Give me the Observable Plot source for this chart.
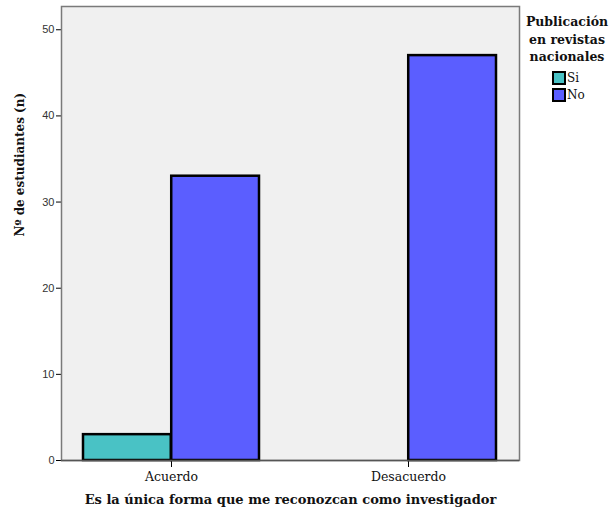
<!DOCTYPE html>
<html>
<head>
<meta charset="utf-8">
<script src="https://cdn.jsdelivr.net/npm/d3@7"></script>
<script src="https://cdn.jsdelivr.net/npm/@observablehq/plot@0.6"></script>
<style>
  html, body { margin: 0; padding: 0; background: #fff; }
  #wrap { position: relative; width: 611px; height: 516px; }
  #wrap svg { position: absolute; left: 0; top: 0; }
  #wrap svg [aria-label^='x-axis'] text { font-family: 'DejaVu Serif', serif !important; font-size: 12.5px; fill: #111; }
  #wrap svg [aria-label^='y-axis'] text { font-family: 'Liberation Sans', Arial, sans-serif !important; font-size: 11px; fill: #333; }
  #legend { position: absolute; left: 521px; top: 13px; width: 92px; font-family: 'DejaVu Serif', serif; }
  #legend .title { font-weight: bold; font-size: 12.5px; line-height: 17.5px; text-align: center; color: #111; }
  #legend .items { margin-left: 31px; margin-top: 4px; }
  #legend .item { display: flex; align-items: center; height: 17px; font-size: 12px; color: #111; }
  #legend .sw { width: 10px; height: 10px; border: 2px solid #000; margin-right: 1px; }
</style>
</head>
<body>
<div id="wrap"></div>
<script>
const categories = ["Acuerdo", "Desacuerdo"];
const series = ["Si", "No"];
const siValues = [3, 0];
const noValues = [33, 47];
const yTicks = [0, 10, 20, 30, 40, 50];
const colors = ["#49C2C5", "#5B5EFF"];
const xTitle = "Es la única forma que me reconozcan como investigador";
const yTitle = "Nº de estudiantes (n)";
const legendTitle = ["Publicación", "en revistas", "nacionales"];

const rows = [];
categories.forEach((c, i) => {
  rows.push({cat: c, serie: "Si", n: siValues[i]});
  rows.push({cat: c, serie: "No", n: noValues[i]});
});

const width = 611, height = 516;
const marginLeft = 61, marginRight = 92, marginTop = 6, marginBottom = 56;
const paddingInner = 0.257, paddingOuter = 0.0928;
const step = (width - marginLeft - marginRight) / (categories.length - paddingInner + 2 * paddingOuter);
const half = step * (1 - paddingInner) / 2;
const serif = "DejaVu Serif, serif";

const chart = Plot.plot({
  width, height, marginLeft, marginRight, marginTop, marginBottom,
  style: {background: "transparent", overflow: "visible"},
  x: {domain: categories, paddingInner, paddingOuter, tickSize: 7, tickPadding: 5, label: null},
  y: {domain: [0, 52.7], ticks: yTicks, tickSize: 5, tickPadding: 2, label: null},
  color: {domain: series, range: colors},
  marks: [
    Plot.frame({fill: "#f0f0f0", stroke: "#7a7a7a", strokeWidth: 1.5}),
    Plot.barY(rows.filter(d => d.serie === "Si" && d.n > 0), {x: "cat", y: "n", fill: "serie", stroke: "#000", strokeWidth: 2.5, insetRight: half}),
    Plot.barY(rows.filter(d => d.serie === "No" && d.n > 0), {x: "cat", y: "n", fill: "serie", stroke: "#000", strokeWidth: 2.5, insetLeft: half}),
    Plot.ruleY([0], {stroke: "#555", strokeWidth: 1.5}),
    Plot.text([xTitle], {frameAnchor: "bottom", dy: 43, fontWeight: "bold", fontSize: 13, fontFamily: serif, fill: "#111"}),
    Plot.text([yTitle], {frameAnchor: "left", dx: -41, dy: 3, rotate: -90, fontWeight: "bold", fontSize: 12, fontFamily: serif, fill: "#111"})
  ]
});
document.getElementById("wrap").appendChild(chart);

const legend = document.createElement("div");
legend.id = "legend";
legend.innerHTML = `<div class="title">${legendTitle.join("<br>")}</div><div class="items">` +
  series.map((s, i) => `<div class="item"><div class="sw" style="background:${colors[i]}"></div>${s}</div>`).join("") + `</div>`;
document.getElementById("wrap").appendChild(legend);
</script>
</body>
</html>
